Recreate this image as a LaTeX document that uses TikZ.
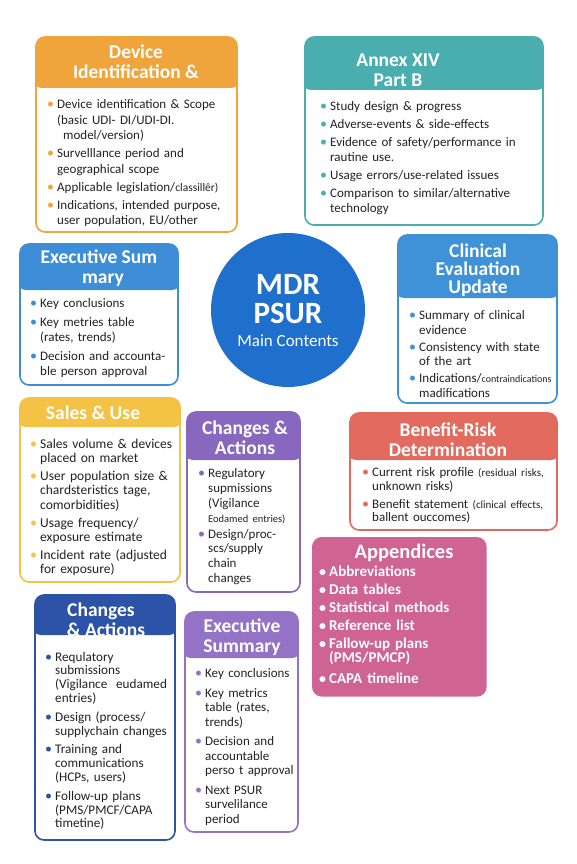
\documentclass[tikz,border=0pt]{standalone}
\usepackage{fontspec}
\setmainfont{Carlito}
\usetikzlibrary{calc}
\pgfdeclarelayer{background}
\pgfsetlayers{background,main}
\definecolor{orC}{HTML}{F0A43C}
\definecolor{teaC}{HTML}{4BAEAE}
\definecolor{bluC}{HTML}{3D8ED6}
\definecolor{cirC}{HTML}{1F6FCC}
\definecolor{cliC}{HTML}{3F92D8}
\definecolor{yelC}{HTML}{F4C244}
\definecolor{purC}{HTML}{8867BE}
\definecolor{redC}{HTML}{E36A5E}
\definecolor{pinkC}{HTML}{CF6394}
\definecolor{dbC}{HTML}{2C53A7}
\definecolor{purTwoC}{HTML}{9473C7}
\definecolor{txtC}{HTML}{222222}
\definecolor{conRed}{HTML}{D9546E}
\definecolor{conPink}{HTML}{D5577F}
\newlength\itemgap
\def\bcol{black}
\newcommand\itm[1]{\par\leftskip=10pt\noindent\llap{\hbox to 10pt{\textcolor{\bcol}{\fontsize{14}{10}\selectfont\textbullet}\hss}}#1\par\vspace{\itemgap}}
\begin{document}
\begin{tikzpicture}[x=1pt,y=-1pt,
  cardbox/.style 2 args={draw=#1, line width=1.6pt, rounded corners=9pt, fill=white,
    anchor=north west, inner sep=0pt, outer sep=0pt,
    path picture={\fill[#1] ([xshift=-3pt,yshift=3pt]path picture bounding box.north west) rectangle ([xshift=3pt,yshift=-#2pt]path picture bounding box.north east);}},
  ttl/.style={text=white, align=center, font=\fontsize{19.5}{20}\selectfont\bfseries, inner sep=0pt},
  bodytext/.style n args={4}{anchor=north west, inner sep=0pt, text width=240pt, text=txtC,
    font=\fontsize{#4}{#2}\selectfont\raggedright\def\bcol{#1}\setlength\itemgap{#3pt}},
  apptext/.style n args={3}{anchor=north west, inner sep=0pt, text width=240pt, text=white,
    font=\fontsize{#3}{#1}\selectfont\bfseries\raggedright\def\bcol{white}\setlength\itemgap{#2pt}},
  conn/.style={draw=#1, line width=2.4pt}
]
\useasboundingbox[fill=white] (0,0) rectangle (576,864);

% ---- central circle
\node[circle, fill=cirC, minimum size=154pt, inner sep=0pt] (c) at (288,310) {};
\node[text=white, align=center, font=\fontsize{31}{28.5}\selectfont\bfseries, inner sep=0pt] (cTa) at (288,299) {MDR\\PSUR};
\node[text=white, font=\fontsize{17}{20}\selectfont, inner sep=0pt] (cTb) at (288,341) {Main Contents};

% ---- Device identification
\node[cardbox={orC}{51}, minimum width=201pt, minimum height=195pt] (dev) at (36,37) {};
\node[ttl] (devT) at (136,62) {Device\\Identification \&};
\node[bodytext={orC}{15.5}{2.5}{13}] (devB) at (47,93) {%
\itm{Device identification \& Scope\\(basic UDI- DI/UDI-DI.\\\hspace*{6pt}model/version)}%
\itm{Survelllance period and\\geographical scope}%
\itm{Applicable legislation/{\fontsize{11.5}{12}\selectfont classillêr)}}%
\itm{Indications, intended purpose,\\user population, EU/other}};

% ---- Annex XIV
\node[cardbox={teaC}{53}, minimum width=238pt, minimum height=188pt] (annex) at (305,37) {};
\node[ttl] (annexT) at (398,70.5) {Annex XIV\\Part B};
\node[bodytext={teaC}{15}{3}{13}] (annexB) at (320,95) {%
\itm{Study design \& progress}%
\itm{Adverse-events \& side-effects}%
\itm{Evidence of safety/performance in\\rautine use.}%
\itm{Usage errors/use-related issues}%
\itm{Comparison to similar/alternative\\technology}};

% ---- Executive summary (blue)
\node[cardbox={bluC}{46}, minimum width=158pt, minimum height=141pt] (exa) at (20,244) {};
\node[ttl] (exaT) at (99,268.5) {Executive Sum\\\hspace*{8pt}mary};
\node[bodytext={bluC}{15.5}{3}{13}] (exaB) at (30,292) {%
\itm{Key conclusions}%
\itm{Key metries table\\(rates, trends)}%
\itm{Decision and accounta-\\ble person approval}};

% ---- Clinical evaluation update
\node[cardbox={cliC}{63}, minimum width=159pt, minimum height=168pt] (clin) at (398,235) {};
\node[ttl, font=\fontsize{19.5}{18}\selectfont\bfseries] (clinT) at (478,270) {Clinical\\Evaluation\\Update};
\node[bodytext={cliC}{14.5}{2.5}{13}] (clinB) at (409,305) {%
\itm{Summary of clinical\\evidence}%
\itm{Consistency with state\\of the art}%
\itm{Indications/{\fontsize{10}{12}\selectfont contraindications}\\madifications}};

% ---- Sales & use
\node[cardbox={yelC}{29}, minimum width=160pt, minimum height=184pt] (sales) at (20,398) {};
\node[ttl] (salesT) at (93,412.5) {Sales \& Use};
\node[bodytext={yelC}{14.8}{2.5}{13.5}] (salesB) at (30,433) {%
\itm{Sales volume \& devices\\placed on market}%
\itm{User population size \&\\chardsteristics tage,\\comorbidities)}%
\itm{Usage frequency/\\exposure estimate}%
\itm{Incident rate (adjusted\\for exposure)}};

% ---- Changes & actions (purple)
\node[cardbox={purC}{48}, minimum width=113pt, minimum height=180pt] (chga) at (187,412) {};
\node[ttl] (chgaT) at (245,437.5) {Changes \&\\Actions};
\node[bodytext={purC}{14.7}{1.5}{13}] (chgaB) at (198,463) {%
\itm{Regulatory\\supmissions\\(Vigilance\\{\fontsize{10.5}{12}\selectfont Eodamed entries)}}%
\itm{Design/proc-\\scs/supply\\chain\\changes}};

% ---- Benefit-risk
\node[cardbox={redC}{47}, minimum width=207pt, minimum height=117pt] (ben) at (350,413) {};
\node[ttl] (benT) at (448,439.5) {Benefit-Risk\\Determination};
\node[bodytext={redC}{13.5}{4.5}{13}] (benB) at (362,463) {%
\itm{Current risk profile {\fontsize{11}{12}\selectfont(residual risks,}\\unknown risks)}%
\itm{Benefit statement {\fontsize{11}{12}\selectfont(clinical effects,}\\ballent ouccomes)}};

% ---- Appendices
\node[draw=pinkC, fill=pinkC, line width=1.6pt, rounded corners=9pt, anchor=north west, inner sep=0pt,
      minimum width=173pt, minimum height=158pt] (app) at (312,537) {};
\node[ttl, font=\fontsize{20.5}{20}\selectfont\bfseries] (appT) at (404,553) {Appendices};
\node[apptext={13.5}{4.5}{15}] (appB) at (319,563) {%
\itm{Abbreviations}%
\itm{Data tables}%
\itm{Statistical methods}%
\itm{Reference list}%
\itm{Fallow-up plans\\(PMS/PMCP)}%
\vspace{3pt}%
\itm{CAPA timeline}};

% ---- Changes & actions (dark blue)
\node[cardbox={dbC}{40}, minimum width=140pt, minimum height=245pt] (chgb) at (35,595) {};
\node[ttl] (chgbT) at (101,620) {Changes\\\hspace*{10pt}\& Actions};
\node[bodytext={dbC}{13.8}{5}{13.2}] (chgbB) at (45,647) {%
\itm{Requlatory\\submissions\\(Vigilance\ \ eudamed\\entries)}%
\itm{Design (process/\\supplychain changes}%
\itm{Training and\\communications\\(HCPs, users)}%
\itm{Follow-up plans\\(PMS/PMCF/CAPA\\timetine)}};

% ---- Executive summary (purple)
\node[cardbox={purTwoC}{46}, minimum width=113pt, minimum height=220pt] (exb) at (185,612) {};
\node[ttl] (exbT) at (242,637.5) {Executive\\Summary};
\node[bodytext={purTwoC}{14.5}{5}{13}] (exbB) at (195,663) {%
\itm{Key conclusions}%
\itm{Key metrics\\table (rates,\\trends)}%
\itm{Decision and\\accountable\\perso t approval}%
\itm{Next PSUR\\survelilance\\period}};

% ---- connectors
\begin{pgfonlayer}{background}
\draw[conn=orC] (c.134) -- ($(dev.south west)+(181,0)$);
\draw[conn=teaC] (c.56) -- ($(annex.south west)+(38,0)$);
\draw[conn=bluC] (c.165) -- ($(exa.north east)+(0,33)$);
\draw[conn=cliC] (c.17) -- ($(clin.north west)+(0,40)$);
\draw[conn=yelC] (c.217) -- ($(sales.north east)+(-3,4)$);
\draw[conn=purC] (c.251) -- ($(chga.north west)+(63,0)$);
\draw[conn=conRed] (c.318) -- ($(ben.north west)+(42,0)$);
\draw[conn=conPink] (c.279) -- ($(app.north west)+(25,0)$);
\end{pgfonlayer}
\end{tikzpicture}
\end{document}
